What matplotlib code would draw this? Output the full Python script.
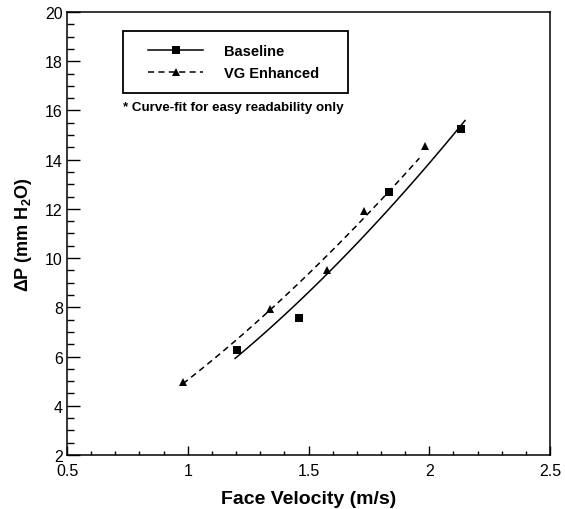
import numpy as np
import matplotlib.pyplot as plt
from matplotlib.lines import Line2D
from matplotlib.legend_handler import HandlerLine2D
from matplotlib.ticker import MultipleLocator

plt.rcParams['font.family'] = ['Liberation Sans', 'DejaVu Sans']
plt.rcParams['mathtext.fontset'] = 'custom'
plt.rcParams['mathtext.rm'] = 'Liberation Sans'
plt.rcParams['mathtext.bf'] = 'Liberation Sans:bold'

# measured pressure drop vs face velocity
v_base = [1.205, 1.462, 1.835, 2.131]
dp_base = [6.27, 7.56, 12.68, 15.24]
v_vg = [0.982, 1.341, 1.575, 1.729, 1.984]
dp_vg = [4.97, 7.93, 9.52, 11.93, 14.57]

# ranges the power-law fits are drawn over
fit_base = (1.196, 2.148)
fit_vg = (0.980, 1.959)

def power_fit(v, dp, lo, hi):
    # dp = a * v^n, fitted in log-log space
    n, loga = np.polyfit(np.log(v), np.log(dp), 1)
    vv = np.linspace(lo, hi, 100)
    return vv, np.exp(loga) * vv**n

LW = 1.1
DASH = (4, 2.8)

fig = plt.figure(figsize=(5.65, 5.1), dpi=100)
ax = fig.add_axes([0.1186, 0.1059, 0.8549, 0.8686])

vv, pp = power_fit(v_base, dp_base, *fit_base)
ax.plot(vv, pp, color='black', lw=LW)
vv, pp = power_fit(v_vg, dp_vg, *fit_vg)
ax.plot(vv, pp, color='black', lw=LW, dashes=DASH)

ax.plot(v_base, dp_base, 's', color='black', ms=5.2, mew=0)
ax.plot(v_vg, dp_vg, '^', color='black', ms=5.8, mew=0)

ax.set_xlim(0.5, 2.5)
ax.set_ylim(2, 20)
ax.xaxis.set_major_locator(MultipleLocator(0.5))
ax.xaxis.set_minor_locator(MultipleLocator(0.1))
ax.yaxis.set_major_locator(MultipleLocator(2))
ax.yaxis.set_minor_locator(MultipleLocator(0.5))
ax.xaxis.set_major_formatter(plt.FuncFormatter(lambda x, p: f'{x:g}'))
ax.tick_params(axis='both', which='both', direction='in', labelsize=11.5, width=1.0, top=False, right=False)
ax.tick_params(axis='x', which='major', length=6.5, pad=5.5)
ax.tick_params(axis='x', which='minor', length=3)
ax.tick_params(axis='y', which='major', length=9.5, pad=3)
ax.tick_params(axis='y', which='minor', length=5)
for s in ax.spines.values():
    s.set_linewidth(1.1)

ax.set_xlabel('Face Velocity (m/s)', fontsize=14, fontweight='bold', labelpad=9)
ax.set_ylabel(r'ΔP (mm H$_\mathbf{2}$O)', fontsize=13, fontweight='bold')
ax.yaxis.set_label_coords(-33 / 483, 0.5)

handles = [
    Line2D([], [], color='black', lw=LW, marker='s', ms=5.5, mew=0),
    Line2D([], [], color='black', lw=LW, dashes=DASH, marker='^', ms=6, mew=0),
]
hmap = {h: HandlerLine2D(xpad=0.8) for h in handles}
leg = ax.legend(handles, ['Baseline    ', 'VG Enhanced    '], loc='upper left',
                bbox_to_anchor=(123 / 565, 1 - 32 / 510), bbox_transform=fig.transFigure,
                prop={'weight': 'bold', 'size': 10.5}, frameon=True, fancybox=False,
                edgecolor='black', framealpha=1, handlelength=4.6, handletextpad=1.4,
                borderpad=0.9, labelspacing=0.55, borderaxespad=0, numpoints=1,
                handler_map=hmap)
leg.get_frame().set_linewidth(1.3)

fig.text(123 / 565, 1 - 108 / 510, '* Curve-fit for easy readability only',
         fontsize=9.6, fontweight='bold', va='center', ha='left')

fig.savefig('out.png', dpi=100)
